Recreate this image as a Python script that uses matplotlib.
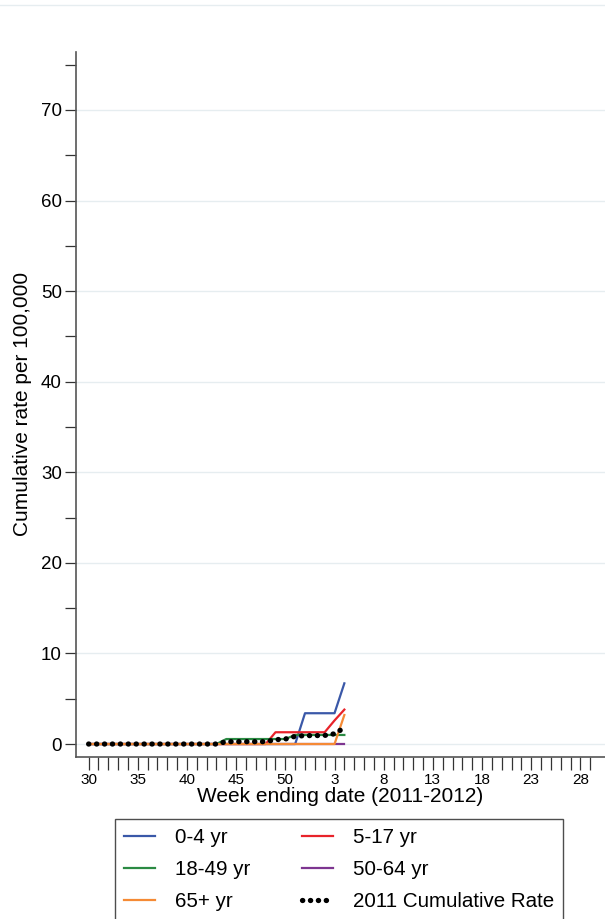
import numpy as np
import matplotlib
matplotlib.use("Agg")
import matplotlib.pyplot as plt
from matplotlib.lines import Line2D

plt.rcParams["font.family"] = ["Liberation Sans", "DejaVu Sans"]

# Surveillance weeks: 30-52 of 2011, then 1-29 of 2012
weeks = list(range(30, 53)) + list(range(1, 30))

# Cumulative rates per 100,000 by age group (reported through week 4, 2012)
rate_0_4 = [0, 0, 0, 0, 0, 0, 0, 0, 0, 0, 0, 0, 0, 0, 0, 0, 0, 0, 0, 0, 0,
            0, 3.4, 3.4, 3.4, 3.4, 6.7]
rate_5_17 = [0, 0, 0, 0, 0, 0, 0, 0, 0, 0, 0, 0, 0, 0, 0, 0, 0, 0, 0, 1.3, 1.3,
             1.3, 1.3, 1.3, 1.3, 2.6, 3.8]
rate_18_49 = [0, 0, 0, 0, 0, 0, 0, 0, 0, 0, 0, 0, 0, 0, 0.55, 0.55, 0.55, 0.55,
              0.55, 0.55, 0.55, 1.0, 1.0, 1.0, 1.0, 1.0, 1.0]
rate_50_64 = [0, 0, 0, 0, 0, 0, 0, 0, 0, 0, 0, 0, 0, 0, 0, 0, 0, 0, 0, 0, 0,
              0, 0, 0, 0, 0, 0]
rate_65 = [0, 0, 0, 0, 0, 0, 0, 0, 0, 0, 0, 0, 0, 0, 0, 0, 0, 0, 0, 0, 0,
           0, 0, 0, 0, 0, 3.2]
rate_overall = [0, 0, 0, 0, 0, 0, 0, 0, 0, 0, 0, 0, 0, 0, 0.26, 0.26, 0.26,
                0.26, 0.26, 0.48, 0.55, 0.85, 0.93, 0.93, 0.95, 1.13, 1.8]

series = [
    ("0-4 yr", rate_0_4, "#3a58a8"),
    ("5-17 yr", rate_5_17, "#e8232a"),
    ("18-49 yr", rate_18_49, "#2b8a43"),
    ("50-64 yr", rate_50_64, "#7d3590"),
    ("65+ yr", rate_65, "#f58a35"),
]

fig = plt.figure(figsize=(6.05, 9.19), dpi=100)
ax = fig.add_axes([0.125, 0.1766, 0.875, 0.7668])

x_all = np.arange(len(weeks))
handles = {}
for label, vals, color in series:
    xs = np.arange(len(vals))
    h, = ax.plot(xs, vals, color=color, lw=1.6, label=label, zorder=3)
    handles[label] = h

xs = np.arange(len(rate_overall))
h_all, = ax.plot(xs, rate_overall, color="black", lw=3.8,
                 linestyle=(0, (0.05, 1.45)), dash_capstyle="round",
                 label="2011 Cumulative Rate", zorder=4)
handles["2011 Cumulative Rate"] = h_all

# axes
ax.set_xlim(-1.32, 52.5)
ax.set_ylim(-1.4, 76.4)
ax.set_xticks(x_all)
ax.set_xticklabels([str(w) if i % 5 == 0 else "" for i, w in enumerate(weeks)],
                   fontsize=11)
ax.set_yticks(np.arange(0, 71, 10))
ax.set_yticks(np.arange(5, 76, 10), minor=True)
ax.tick_params(axis="y", which="both", length=8, width=0.9, color="#333333",
               labelsize=13.5, pad=2)
ax.tick_params(axis="x", length=9, width=0.9, color="#333333", pad=3)
ax.yaxis.grid(True, color="#e6edf0", lw=1.0)
ax.set_axisbelow(True)

for side in ["top", "right"]:
    ax.spines[side].set_visible(False)
for side in ["left", "bottom"]:
    ax.spines[side].set_color("#555555")
    ax.spines[side].set_linewidth(1.2)

ax.set_ylabel("Cumulative rate per 100,000", fontsize=15, labelpad=6)
ax.set_xlabel("Week ending date (2011-2012)", fontsize=15, labelpad=0)

# legend, row by row
order = ["0-4 yr", "18-49 yr", "65+ yr", "5-17 yr", "50-64 yr",
         "2011 Cumulative Rate"]
leg = fig.legend([handles[k] for k in order], order, ncol=2,
                 loc="upper left", bbox_to_anchor=(0.190, 0.109),
                 borderaxespad=0, fontsize=14.8, frameon=True, fancybox=False,
                 edgecolor="#222222", handlelength=1.5, handletextpad=0.97,
                 columnspacing=2.5, labelspacing=0.63, borderpad=0.45)
leg.get_frame().set_linewidth(1.0)

# faint rule across the top
fig.add_artist(Line2D([0, 1], [0.995, 0.995], color="#e6edf0", lw=1.0))

fig.savefig("out.png", dpi=100)
